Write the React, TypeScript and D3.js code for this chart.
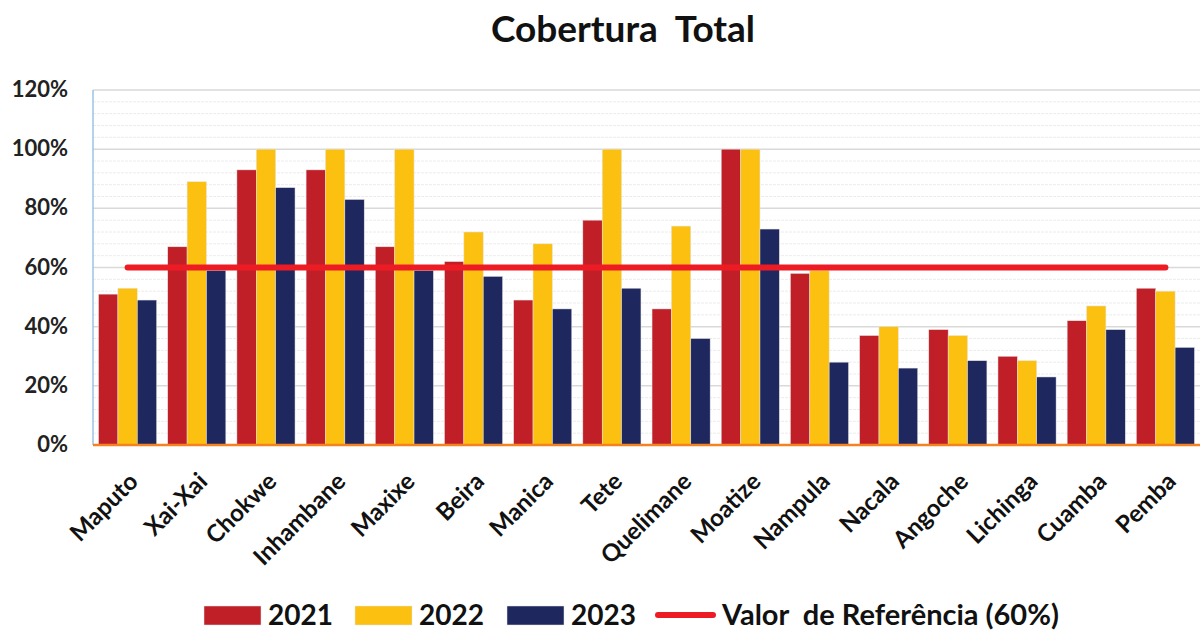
import React from "react";
import * as d3 from "d3";

const categories = ["Maputo", "Xai-Xai", "Chokwe", "Inhambane", "Maxixe", "Beira", "Manica", "Tete", "Quelimane", "Moatize", "Nampula", "Nacala", "Angoche", "Lichinga", "Cuamba", "Pemba"];
const v2021 = [51, 67, 93, 93, 67, 62, 49, 76, 46, 100, 58, 37, 39, 30, 42, 53];
const v2022 = [53, 89, 100, 100, 100, 72, 68, 100, 74, 100, 59, 40, 37, 28.5, 47, 52];
const v2023 = [49, 59, 87, 83, 59, 57, 46, 53, 36, 73, 28, 26, 28.5, 23, 39, 33];
const referenceValue = 60;
const seriesNames = ["2021", "2022", "2023"];
const seriesColors = ["#c11f27", "#fcc010", "#1f285e"];
const refLabel = "Valor  de Referência (60%)";
const yTicks = [0, 20, 40, 60, 80, 100, 120];
const title = "Cobertura  Total";

const W = 1202;
const H = 635;
const FONT = "Lato, 'Open Sans', sans-serif";

export default function App() {
  const left = 93, right = 1200, top = 90, bottom = 445;
  const x = d3.scaleBand<string>().domain(categories).range([left, right]).paddingInner(0.16).paddingOuter(0.08);
  const x1 = d3.scaleBand<string>().domain(seriesNames).range([0, x.bandwidth()]);
  const y = d3.scaleLinear().domain([0, 120]).range([bottom, top]);
  const series = [v2021, v2022, v2023];
  const minorTicks = d3.range(0, 121, 4).filter((t) => t % 20 !== 0);
  const firstC = x(categories[0])! + x.bandwidth() / 2;
  const lastC = x(categories[categories.length - 1])! + x.bandwidth() / 2;

  return (
    <svg width={W} height={H} style={{ position: "absolute", left: 0, top: 0, background: "#fff" }} fontFamily={FONT}>
      <rect x={0} y={0} width={W} height={H} fill="#fff" />
      <text x={623} y={42} textAnchor="middle" fontSize={37} fontWeight="bold" fill="#111" style={{ whiteSpace: "pre" }}>{title}</text>
      {minorTicks.map((t) => (
        <line key={"m" + t} x1={left} x2={right} y1={y(t)} y2={y(t)} stroke="#ececec" strokeWidth={1} strokeDasharray="3,1" />
      ))}
      {yTicks.filter((t) => t > 0).map((t) => (
        <line key={"g" + t} x1={left} x2={right} y1={y(t)} y2={y(t)} stroke="#d9d9d9" strokeWidth={1.5} />
      ))}
      {yTicks.map((t) => (
        <text key={"t" + t} x={68} y={y(t) + 7} textAnchor="end" fontSize={22} fontWeight="bold" fill="#222">{t + "%"}</text>
      ))}
      {categories.map((c, i) => (
        <g key={c} transform={`translate(${x(c)},0)`}>
          {series.map((s, j) => (
            <rect key={j} x={x1(seriesNames[j])} y={y(s[i])} width={x1.bandwidth()} height={bottom - y(s[i])} fill={seriesColors[j]} stroke="#e6e6e6" strokeWidth={0.5} />
          ))}
        </g>
      ))}
      <line x1={left} x2={left} y1={top} y2={bottom} stroke="#9dc3e6" strokeWidth={1.5} />
      <line x1={left} x2={right} y1={bottom} y2={bottom} stroke="#f58220" strokeWidth={2.5} />
      <line x1={firstC} x2={lastC} y1={y(referenceValue)} y2={y(referenceValue)} stroke="#ed1c24" strokeWidth={6} strokeLinecap="round" />
      {categories.map((c) => {
        const cx = x(c)! + x.bandwidth() / 2 + 12;
        return (
          <text key={"l" + c} transform={`translate(${cx},483) rotate(-45)`} textAnchor="end" fontSize={24} fontWeight="bold" fill="#111">{c}</text>
        );
      })}
      {[204, 355, 507].map((lx, j) => (
        <g key={"lg" + j}>
          <rect x={lx} y={606} width={57} height={19} fill={seriesColors[j]} stroke="#e6e6e6" strokeWidth={0.5} />
          <text x={lx + 64} y={625} fontSize={28} fontWeight="bold" fill="#111">{seriesNames[j]}</text>
        </g>
      ))}
      <line x1={658} x2={713} y1={615} y2={615} stroke="#ed1c24" strokeWidth={6} strokeLinecap="round" />
      <text x={722} y={625} fontSize={29} fontWeight="bold" fill="#111" style={{ whiteSpace: "pre" }}>{refLabel}</text>
    </svg>
  );
}
